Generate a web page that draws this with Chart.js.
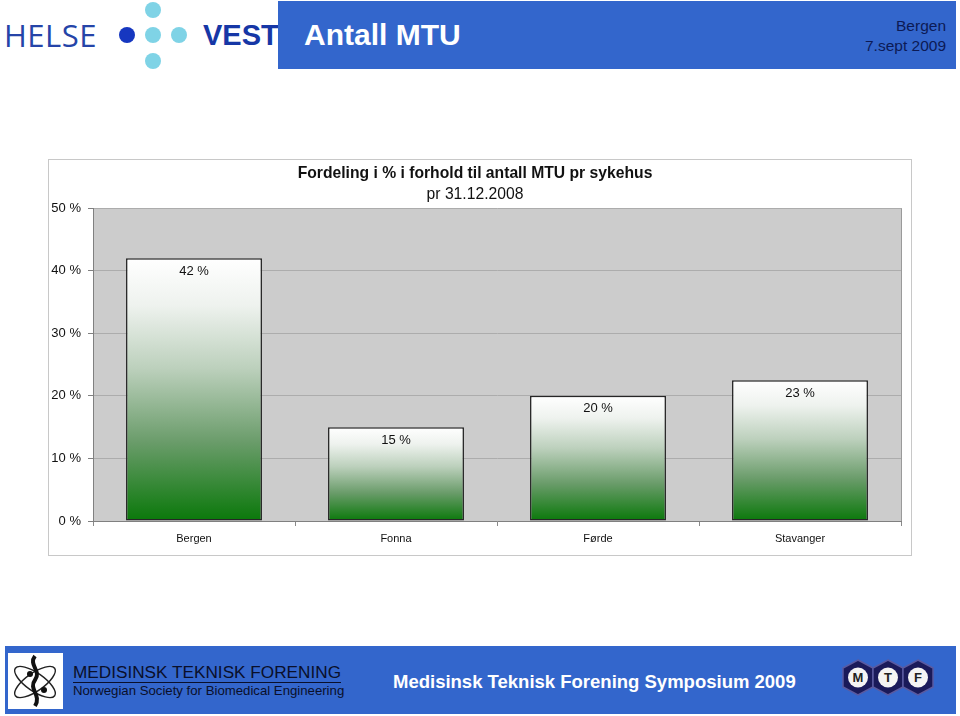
<!DOCTYPE html>
<html>
<head>
<meta charset="utf-8">
<script src="https://cdn.jsdelivr.net/npm/chart.js@4"></script>
<style>
  body { margin: 0; width: 960px; height: 716px; background: #fff; position: relative; overflow: hidden; font-family: "Liberation Sans", Arial, sans-serif; }
  .abs { position: absolute; }
  #logoHelse { left: 4px; top: 17px; font-family: "Open Sans", sans-serif; font-weight: 400; font-size: 31px; color: #2544a8; letter-spacing: 0.5px; line-height: 36px; }
  #logoVest { left: 203px; top: 17px; font-family: "Liberation Sans", Arial, sans-serif; font-weight: bold; font-size: 29px; color: #1637a6; line-height: 36px; }
  .dot { position: absolute; width: 16px; height: 16px; border-radius: 8px; background: #7fd3e6; }
  #header { left: 278px; top: 1px; width: 678px; height: 68px; background: #3366cc; }
  #title { left: 26px; top: 16px; color: #fff; font-weight: bold; font-size: 30px; line-height: 36px; }
  #place { right: 10px; top: 15px; text-align: right; color: #0c1a55; font-size: 15.5px; line-height: 20px; }
  #chartBox { left: 48px; top: 159px; width: 864px; height: 397px; border: 1px solid #c8c8c8; box-sizing: border-box; }
  #footer { left: 5px; top: 646px; width: 951px; height: 68px; background: #3366cc; }
  #mtfBox { left: 3px; top: 7px; width: 55px; height: 56px; background: #fff; }
  #org1 { left: 68px; top: 16px; font-size: 17.2px; color: #0a0f2a; line-height: 20px; border-bottom: 1px solid #0a0f2a; }
  #org2 { left: 68px; top: 37px; font-size: 13.2px; color: #0a0f2a; line-height: 16px; }
  #symp { left: 388px; top: 25px; font-size: 18.5px; font-weight: bold; color: #fff; line-height: 22px; }
  #mtf { left: 836px; top: 10px; }
</style>
</head>
<body>
<div id="logoHelse" class="abs">HELSE</div>
<div class="dot" style="left:119px;top:27px;background:#1637c0"></div>
<div class="dot" style="left:145px;top:2px"></div>
<div class="dot" style="left:145px;top:27px"></div>
<div class="dot" style="left:171px;top:27px"></div>
<div class="dot" style="left:145px;top:53px"></div>
<div id="logoVest" class="abs">VEST</div>

<div id="header" class="abs">
  <div id="title" class="abs">Antall MTU</div>
  <div id="place" class="abs">Bergen<br>7.sept 2009</div>
</div>

<div id="chartBox" class="abs">
  <canvas id="mtuChart" width="862" height="395"></canvas>
</div>

<div id="footer" class="abs">
  <div id="mtfBox" class="abs">
    <svg width="55" height="56" viewBox="0 0 55 56">
      <g fill="none" stroke="#222" stroke-width="1.4">
        <ellipse cx="27" cy="29" rx="24" ry="9" transform="rotate(-35 27 29)"/>
        <ellipse cx="27" cy="29" rx="24" ry="9" transform="rotate(35 27 29)"/>
      </g>
      <path d="M27 3 C20 12 34 18 27 27 C20 36 34 42 27 53" fill="none" stroke="#111" stroke-width="4"/>
      <circle cx="22" cy="21" r="3" fill="#111"/>
      <circle cx="36" cy="37" r="3" fill="#111"/>
    </svg>
  </div>
  <div id="org1" class="abs">MEDISINSK TEKNISK FORENING</div>
  <div id="org2" class="abs">Norwegian Society for Biomedical Engineering</div>
  <div id="symp" class="abs">Medisinsk Teknisk Forening Symposium 2009</div>
  <svg id="mtf" class="abs" width="96" height="48" viewBox="0 0 96 48">
    <g fill="#1a1a5a" stroke="#5a5aa0" stroke-width="1.5">
      <polygon points="17,4 32,12 32,31 17,39 2,31 2,12"/>
      <polygon points="47,4 62,12 62,31 47,39 32,31 32,12"/>
      <polygon points="77,4 92,12 92,31 77,39 62,31 62,12"/>
    </g>
    <g fill="#f4f4f4">
      <circle cx="17" cy="21.5" r="10"/><circle cx="47" cy="21.5" r="10"/><circle cx="77" cy="21.5" r="10"/>
    </g>
    <g font-family="Liberation Sans, Arial" font-weight="bold" font-size="13" fill="#222" text-anchor="middle">
      <text x="17" y="26">M</text><text x="47" y="26">T</text><text x="77" y="26">F</text>
    </g>
  </svg>
</div>

<script>
const hospitals = ['Bergen', 'Fonna', 'Førde', 'Stavanger'];
const shareMTU = [42, 15, 20, 22.5];
const yTicks = [0, 10, 20, 30, 40, 50];

const titleText = 'Fordeling i % i forhold til antall MTU pr sykehus';
const subtitleText = 'pr 31.12.2008';

// grey plot area like the old excel chart
const plotBackground = {
    id: 'plotBackground',
    beforeDraw(chart) {
        const {ctx, chartArea} = chart;
        ctx.save();
        ctx.fillStyle = '#cccccc';
        ctx.fillRect(chartArea.left, chartArea.top, chartArea.right - chartArea.left, chartArea.bottom - chartArea.top);
        ctx.restore();
    },
    beforeDatasetsDraw(chart) {
        const {ctx, chartArea} = chart;
        ctx.save();
        ctx.strokeStyle = '#9a9a9a';
        ctx.lineWidth = 1;
        ctx.beginPath();
        ctx.moveTo(chartArea.right + 0.5, chartArea.top);
        ctx.lineTo(chartArea.right + 0.5, chartArea.bottom);
        ctx.stroke();
        ctx.restore();
    }
};

const valueLabels = {
    id: 'valueLabels',
    afterDatasetsDraw(chart) {
        const ctx = chart.ctx;
        const meta = chart.getDatasetMeta(0);
        ctx.save();
        ctx.font = '13px "Liberation Sans", Arial, sans-serif';
        ctx.fillStyle = '#111';
        ctx.textAlign = 'center';
        ctx.textBaseline = 'middle';
        meta.data.forEach((bar, i) => {
            ctx.fillText(Math.round(shareMTU[i]) + ' %', bar.x, bar.y + 13);
        });
        ctx.restore();
    }
};

function barGradient(context) {
    const chart = context.chart;
    if (!chart.chartArea) return '#6a9e6a';
    const y = chart.scales.y;
    const top = y.getPixelForValue(context.raw);
    const bottom = y.getPixelForValue(0);
    const g = chart.ctx.createLinearGradient(0, top, 0, bottom);
    g.addColorStop(0, '#ffffff');
    g.addColorStop(0.18, '#eef2ee');
    g.addColorStop(0.42, '#bcd0bc');
    g.addColorStop(0.7, '#6a9c6a');
    g.addColorStop(1, '#0a780a');
    return g;
}

let chartContainer = document.getElementById('mtuChart').getContext('2d');

let config = {
    type : 'bar',
    data : {
        labels : hospitals,
        datasets : [{
            data : shareMTU,
            backgroundColor : barGradient,
            borderColor : '#262626',
            borderWidth : 1.5,
            borderSkipped : false,
            categoryPercentage : 1,
            barPercentage : 0.673
        }]
    },
    options : {
        responsive : false,
        animation : false,
        layout : {padding : {left : 0, right : 10, top : 0, bottom : 0}},
        plugins : {
            legend : {display : false},
            tooltip : {enabled : false},
            title : {
                display : true,
                text : titleText,
                color : '#111',
                font : {family : '"Liberation Sans", Arial, sans-serif', size : 15.7, weight : 'bold', lineHeight : 1.15},
                padding : {top : 5, bottom : 0}
            },
            subtitle : {
                display : true,
                text : subtitleText,
                color : '#111',
                font : {family : '"Liberation Sans", Arial, sans-serif', size : 15.7, lineHeight : 1.15},
                padding : {top : 3, bottom : 4}
            }
        },
        scales : {
            x : {
                afterFit(scale) { scale.height = 34; },
                grid : {offset : true, drawOnChartArea : false, tickLength : 5, color : '#8a8a8a'},
                border : {color : '#808080'},
                ticks : {
                    color : '#111',
                    padding : 6,
                    font : {family : '"Liberation Sans Narrow", "Liberation Sans", Arial, sans-serif', size : 11}
                }
            },
            y : {
                min : 0,
                max : 50,
                afterFit(scale) { scale.width = 44; },
                afterBuildTicks(scale) { scale.ticks = yTicks.map(v => ({value : v})); },
                grid : {color : '#acacac', tickColor : '#808080', tickLength : 5},
                border : {color : '#808080'},
                ticks : {
                    color : '#111',
                    padding : 7,
                    font : {family : '"Liberation Sans", Arial, sans-serif', size : 13},
                    callback : v => v + ' %'
                }
            }
        }
    },
    plugins : [plotBackground, valueLabels]
};

let chart = new Chart(chartContainer, config);
</script>
</body>
</html>
